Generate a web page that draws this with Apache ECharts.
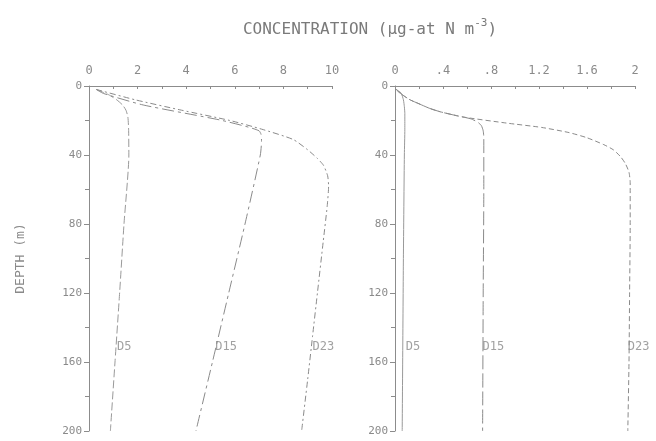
<!DOCTYPE html>
<html>
<head>
<meta charset="utf-8">
<script src="https://cdn.jsdelivr.net/npm/echarts@6/dist/echarts.min.js"></script>
<style>html,body{margin:0;padding:0;background:#fff}#c{width:656px;height:441px}</style>
</head>
<body>
<div id="c"></div>
<script>
// ---- data (depth in m, concentration in µg-at N m^-3) ----
const stations = ['D5', 'D15', 'D23'];

// left panel
const leftD5Depth = [2, 5, 8, 11, 14, 18, 25, 40, 80, 120, 160, 200];
const leftD5Value = [0.3, 0.8, 1.14, 1.38, 1.52, 1.6, 1.63, 1.64, 1.44, 1.26, 1.07, 0.88];
const leftD15Depth = [2, 4.3, 11, 19.7, 24, 26, 28, 32, 40, 80, 120, 160, 200];
const leftD15Value = [0.3, 0.59, 2.23, 5.39, 6.6, 7.0, 7.08, 7.1, 7.05, 6.42, 5.75, 5.08, 4.4];
const leftD23Depth = [2, 8, 14, 20, 25, 31, 37, 42, 46, 52, 58, 70, 90, 120, 145, 170, 200];
const leftD23Value = [0.3, 1.9, 3.8, 5.8, 7.1, 8.4, 9.0, 9.4, 9.65, 9.82, 9.86, 9.8, 9.64, 9.4, 9.2, 9.0, 8.75];

// right panel
const rightD5Depth = [2, 4, 8, 12, 16, 25, 40, 100, 200];
const rightD5Value = [0.01, 0.05, 0.07, 0.078, 0.082, 0.082, 0.078, 0.07, 0.06];
const rightD15Depth = [2, 4, 6, 8, 10, 13, 15, 17, 19, 21, 23, 26, 30, 60, 120, 200];
const rightD15Value = [0.01, 0.04, 0.08, 0.125, 0.19, 0.29, 0.38, 0.5, 0.63, 0.69, 0.72, 0.735, 0.74, 0.74, 0.735, 0.73];
const rightD23Depth = [2, 4, 6, 8, 10, 13, 15, 18, 21.5, 24, 27, 30, 34, 37, 41, 45, 50, 56, 80, 120, 160, 200];
const rightD23Value = [0.01, 0.04, 0.08, 0.125, 0.19, 0.29, 0.38, 0.57, 0.93, 1.22, 1.45, 1.6, 1.74, 1.82, 1.88, 1.92, 1.95, 1.96, 1.96, 1.955, 1.95, 1.94];

// station labels
const labelDepth = 151;
const leftLabelValue = [1.15, 5.2, 9.2];
const rightLabelValue = [0.09, 0.73, 1.94];

// tick labels
const leftTickLabels = {0: '0', 2: '2', 4: '4', 6: '6', 8: '8', 10: '10'};
const rightTickLabels = {0: '0', 0.4: '.4', 0.8: '.8', 1.2: '1.2', 1.6: '1.6', 2: '2'};
const depthTickLabels = [0, 40, 80, 120, 160, 200];

// ---- chart ----
const pair = (v, d) => v.map((x, i) => [x, d[i]]);
const txt = '#8a8a8a';
const lineCol = '#8c8c8c';
const font = 'DejaVu Sans Mono';

function xAxis(idx, max, interval, labels) {
  return {
    type: 'value', gridIndex: idx, position: 'top', min: 0, max: max, interval: interval,
    axisLine: {show: true, lineStyle: {color: lineCol, width: 1}},
    axisTick: {show: true, inside: true, length: 3, lineStyle: {color: lineCol}},
    minorTick: {show: true, splitNumber: 2, length: 3, lineStyle: {color: lineCol}},
    splitLine: {show: false},
    axisLabel: {color: txt, fontFamily: font, fontSize: 12, margin: 9,
      formatter: v => labels[Math.round(v * 10) / 10] ?? ''}
  };
}
function yAxis(idx) {
  return {
    type: 'value', gridIndex: idx, inverse: true, min: 0, max: 200, interval: 40,
    axisLine: {show: true, lineStyle: {color: lineCol, width: 1}},
    axisTick: {show: true, inside: false, length: 5, lineStyle: {color: lineCol}},
    minorTick: {show: true, splitNumber: 2, length: 4, lineStyle: {color: lineCol}},
    splitLine: {show: false},
    axisLabel: {color: txt, fontFamily: font, fontSize: 11, margin: 7,
      formatter: v => depthTickLabels.includes(v) ? String(v) : ''},
    name: idx === 0 ? 'DEPTH (m)' : '', nameLocation: 'middle', nameGap: 62, nameRotate: 90,
    nameTextStyle: {color: txt, fontFamily: font, fontSize: 13}
  };
}
function line(name, idx, v, d, type, color, width) {
  return {
    name: name, type: 'line', xAxisIndex: idx, yAxisIndex: idx,
    data: pair(v, d), showSymbol: false, smooth: 0.2,
    lineStyle: {color: color, width: width || 1, type: type}, silent: true
  };
}
function labels(idx, vals) {
  return {
    type: 'scatter', xAxisIndex: idx, yAxisIndex: idx, symbolSize: 0, silent: true,
    data: vals.map((v, i) => ({value: [v, labelDepth], name: stations[i]})),
    label: {show: true, position: 'right', distance: 0, formatter: p => p.name,
      color: txt, fontFamily: font, fontSize: 12}
  };
}

const chart = echarts.init(document.getElementById('c'), null, {renderer: 'canvas'});
chart.setOption({
  animation: false,
  backgroundColor: '#fff',
  title: {
    text: '{a|CONCENTRATION (µg-at N m}{s|-3}{a|)}',
    left: 365, top: 13, textAlign: 'center',
    textStyle: {fontWeight: 'normal', rich: {
      a: {fontFamily: font, fontSize: 16, fontWeight: 'normal', color: '#7a7a7a', verticalAlign: 'bottom'},
      s: {fontFamily: font, fontSize: 11, fontWeight: 'normal', color: '#7a7a7a', padding: [0, 0, 9, 0]}
    }}
  },
  grid: [
    {left: 89, top: 86, width: 243, height: 345},
    {left: 395, top: 86, width: 240, height: 345}
  ],
  xAxis: [xAxis(0, 10, 2, leftTickLabels), xAxis(1, 2, 0.4, rightTickLabels)],
  yAxis: [yAxis(0), yAxis(1)],
  series: [
    line('D5', 0, leftD5Value, leftD5Depth, [8, 3], '#999'),
    line('D15', 0, leftD15Value, leftD15Depth, [12, 4, 3, 4], '#8a8a8a'),
    line('D23', 0, leftD23Value, leftD23Depth, [6, 3, 2, 3], '#8a8a8a'),
    line('D5', 1, rightD5Value, rightD5Depth, 'solid', '#999'),
    line('D15', 1, rightD15Value, rightD15Depth, [14, 4], '#8a8a8a'),
    line('D23', 1, rightD23Value, rightD23Depth, [5, 3], '#8a8a8a'),
    labels(0, leftLabelValue),
    labels(1, rightLabelValue)
  ]
});
</script>
</body>
</html>
